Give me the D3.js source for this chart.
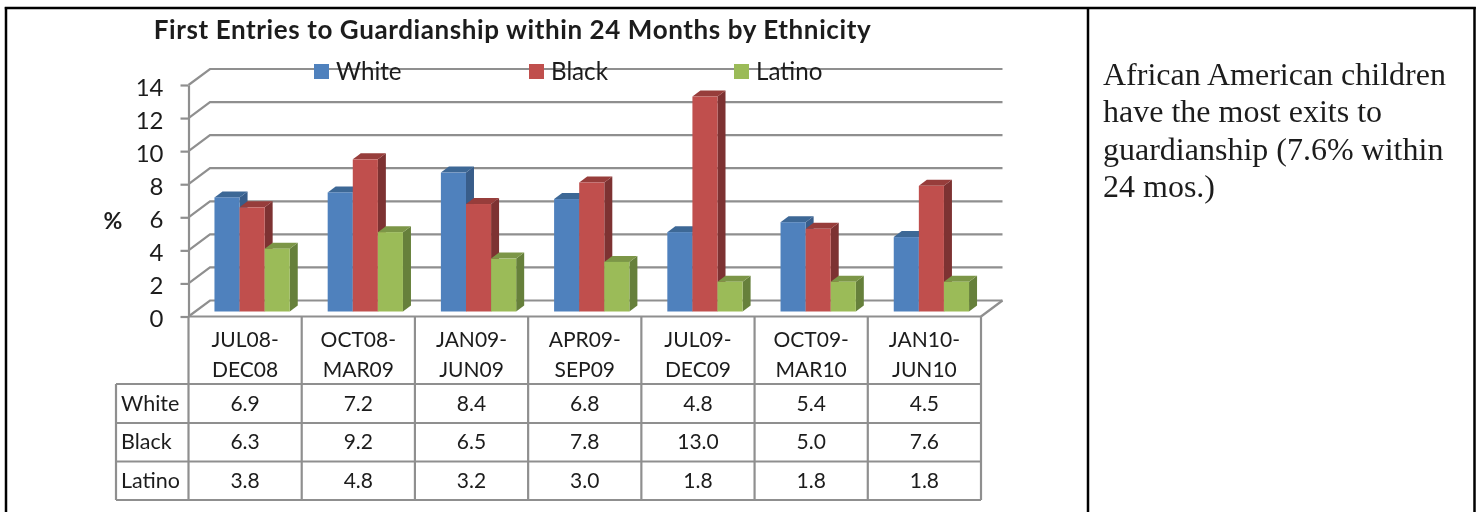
<!DOCTYPE html>
<html>
<head>
<meta charset="utf-8">
<script src="https://cdn.jsdelivr.net/npm/d3@7"></script>
<style>
  html, body { margin: 0; padding: 0; background: #fff; }
  svg { display: block; }
  text { font-family: Lato, "Open Sans", sans-serif; fill: #1c1c1c; }
</style>
</head>
<body>
<div id="chart"></div>
<script>
const width = 1479;
const height = 512;

const categories = [
  ["JUL08-", "DEC08"],
  ["OCT08-", "MAR09"],
  ["JAN09-", "JUN09"],
  ["APR09-", "SEP09"],
  ["JUL09-", "DEC09"],
  ["OCT09-", "MAR10"],
  ["JAN10-", "JUN10"]
];
const seriesNames = ["White", "Black", "Latino"];
const white = [6.9, 7.2, 8.4, 6.8, 4.8, 5.4, 4.5];
const black = [6.3, 9.2, 6.5, 7.8, 13.0, 5.0, 7.6];
const latino = [3.8, 4.8, 3.2, 3.0, 1.8, 1.8, 1.8];
const yTicks = [0, 2, 4, 6, 8, 10, 12, 14];
const title = "First Entries to Guardianship within 24 Months by Ethnicity";
const noteLines = [
  "African American children",
  "have the most exits to",
  "guardianship (7.6% within",
  "24 mos.)"
];

const seriesValues = [white, black, latino];

const colors = [
  {front: "#4f81bd", top: "#3d6796", side: "#385d8a"},
  {front: "#c0504d", top: "#973c3a", side: "#7d3231"},
  {front: "#9bbb59", top: "#7c9647", side: "#66803a"}
];

const plot = {left: 188.5, right: 981, top: 85, bottom: 316.5};
const wall = {dx: 21.5, dy: -16};
const barDepth = {dx: 8, dy: -6};
const barBase = 311.5;
const table = {left: 116, rows: [384, 423, 461.5, 500]};
const gridColor = "#8f8f8f";

const svg = d3.select("#chart")
  .append("svg")
  .attr("width", width)
  .attr("height", height)
  .attr("viewBox", [0, 0, width, height]);

// the reference is a soft screenshot
const defs = svg.append("defs");
defs.append("filter")
  .attr("id", "soft")
  .attr("x", "-2%").attr("y", "-2%")
  .attr("width", "104%").attr("height", "104%")
  .append("feGaussianBlur")
  .attr("stdDeviation", 0.45);

const root = svg.append("g").attr("filter", "url(#soft)");

const xBand = d3.scaleBand()
  .domain(d3.range(categories.length))
  .range([plot.left, plot.right]);

const x0 = d3.scaleBand()
  .domain(d3.range(categories.length))
  .range([plot.left + 7, plot.right + 7])
  .paddingInner(0.335)
  .paddingOuter(0.1675);

const x1 = d3.scaleBand()
  .domain(seriesNames)
  .range([0, x0.bandwidth()]);

const y = d3.scaleLinear()
  .domain([0, 14])
  .range([plot.bottom, plot.top]);

const yBar = d3.scaleLinear()
  .domain([0, 14])
  .range([barBase, barBase - (plot.bottom - plot.top)]);

// back wall, gridlines and their slanted ends
const grid = root.append("g")
  .attr("fill", "none")
  .attr("stroke", gridColor)
  .attr("stroke-width", 2.2);

grid.selectAll("path.grid")
  .data(yTicks)
  .join("path")
  .attr("class", "grid")
  .attr("d", d => `M${plot.left},${y(d)}L${plot.left + wall.dx},${y(d) + wall.dy}H${plot.right + wall.dx}`);

// floor right edge
grid.append("path")
  .attr("d", `M${plot.right},${plot.bottom}L${plot.right + wall.dx},${plot.bottom + wall.dy}`);

// y axis with ticks to the left
const yAxis = d3.axisLeft(y)
  .tickValues(yTicks)
  .tickSizeInner(8)
  .tickSizeOuter(0)
  .tickPadding(17);

const yG = root.append("g")
  .attr("transform", `translate(${plot.left},0)`)
  .call(yAxis);
yG.selectAll("line, path").attr("stroke", gridColor).attr("stroke-width", 2.2);
yG.selectAll("text")
  .attr("font-size", 24)
  .attr("dy", "0.42em")
  .style("font-family", "Lato, sans-serif")
  .attr("fill", "#1c1c1c");

// bars
const barGroups = root.append("g")
  .selectAll("g")
  .data(categories)
  .join("g");

barGroups.each(function (_, i) {
  const g = d3.select(this);
  seriesNames.forEach((name, s) => {
    const v = seriesValues[s][i];
    const bx = x0(i) + x1(name);
    const bw = x1.bandwidth();
    const top = yBar(v);
    g.append("path")
      .attr("fill", colors[s].side)
      .attr("d", `M${bx + bw},${top}l${barDepth.dx},${barDepth.dy}V${barBase + barDepth.dy}L${bx + bw},${barBase}Z`);
    g.append("path")
      .attr("fill", colors[s].top)
      .attr("d", `M${bx},${top}l${barDepth.dx},${barDepth.dy}h${bw}l${-barDepth.dx},${-barDepth.dy}Z`);
    g.append("rect")
      .attr("x", bx)
      .attr("y", top)
      .attr("width", bw)
      .attr("height", barBase - top)
      .attr("fill", colors[s].front);
  });
});

// data table
const tableG = root.append("g")
  .attr("stroke", gridColor)
  .attr("stroke-width", 2.2)
  .attr("fill", "none");

tableG.append("line")
  .attr("x1", plot.left).attr("x2", plot.right)
  .attr("y1", plot.bottom).attr("y2", plot.bottom);

tableG.selectAll("line.v")
  .data(d3.range(categories.length + 1))
  .join("line")
  .attr("class", "v")
  .attr("x1", d => d === categories.length ? plot.right : xBand(d))
  .attr("x2", d => d === categories.length ? plot.right : xBand(d))
  .attr("y1", plot.bottom)
  .attr("y2", table.rows[3]);

tableG.selectAll("line.h")
  .data(table.rows)
  .join("line")
  .attr("class", "h")
  .attr("x1", table.left)
  .attr("x2", plot.right)
  .attr("y1", d => d)
  .attr("y2", d => d);

tableG.append("line")
  .attr("x1", table.left).attr("x2", table.left)
  .attr("y1", table.rows[0]).attr("y2", table.rows[3]);

// category labels
const catText = root.append("g")
  .attr("text-anchor", "middle")
  .attr("font-size", 21);

categories.forEach((lines, i) => {
  lines.forEach((line, j) => {
    catText.append("text")
      .attr("x", xBand(i) + xBand.bandwidth() / 2)
      .attr("y", 346.5 + j * 30)
      .text(line);
  });
});

// series rows
seriesNames.forEach((name, s) => {
  const rowMid = (table.rows[s] + table.rows[s + 1]) / 2;
  root.append("text")
    .attr("x", 121)
    .attr("y", rowMid + 7)
    .attr("font-size", 21.5)
    .text(name);
  seriesValues[s].forEach((v, i) => {
    root.append("text")
      .attr("x", xBand(i) + xBand.bandwidth() / 2)
      .attr("y", rowMid + 7)
      .attr("text-anchor", "middle")
      .attr("font-size", 21)
      .text(v.toFixed(1));
  });
});

// legend
const legendX = [314, 529, 734];
const legend = root.append("g");
seriesNames.forEach((name, s) => {
  legend.append("rect")
    .attr("x", legendX[s])
    .attr("y", 64)
    .attr("width", 15)
    .attr("height", 15)
    .attr("fill", colors[s].front);
  legend.append("text")
    .attr("x", legendX[s] + 22)
    .attr("y", 80)
    .attr("font-size", 24.2)
    .text(name);
});

// title and axis unit
root.append("text")
  .attr("x", 512.5)
  .attr("y", 39)
  .attr("text-anchor", "middle")
  .attr("font-size", 26)
  .attr("font-weight", 700)
  .attr("letter-spacing", 0.6)
  .attr("fill", "#111")
  .text(title);

root.append("text")
  .attr("x", 113)
  .attr("y", 229)
  .attr("text-anchor", "middle")
  .attr("font-size", 23)
  .attr("font-weight", 700)
  .text("%");

// outer page table rules
const rules = svg.append("g").attr("stroke", "#000").attr("stroke-width", 2.5);
rules.append("line").attr("x1", 4.8).attr("x2", 1475.8).attr("y1", 8).attr("y2", 8);
rules.append("line").attr("x1", 6).attr("x2", 6).attr("y1", 7).attr("y2", height);
rules.append("line").attr("x1", 1088).attr("x2", 1088).attr("y1", 7).attr("y2", height);
rules.append("line").attr("x1", 1474.5).attr("x2", 1474.5).attr("y1", 7).attr("y2", height);

// note in the right cell
const noteY = [85, 122, 160, 197];
svg.append("g")
  .selectAll("text")
  .data(noteLines)
  .join("text")
  .attr("x", 1103)
  .attr("y", (d, i) => noteY[i])
  .attr("font-size", 32)
  .style("font-family", "'Liberation Serif', serif")
  .attr("fill", "#000")
  .text(d => d);
</script>
</body>
</html>
